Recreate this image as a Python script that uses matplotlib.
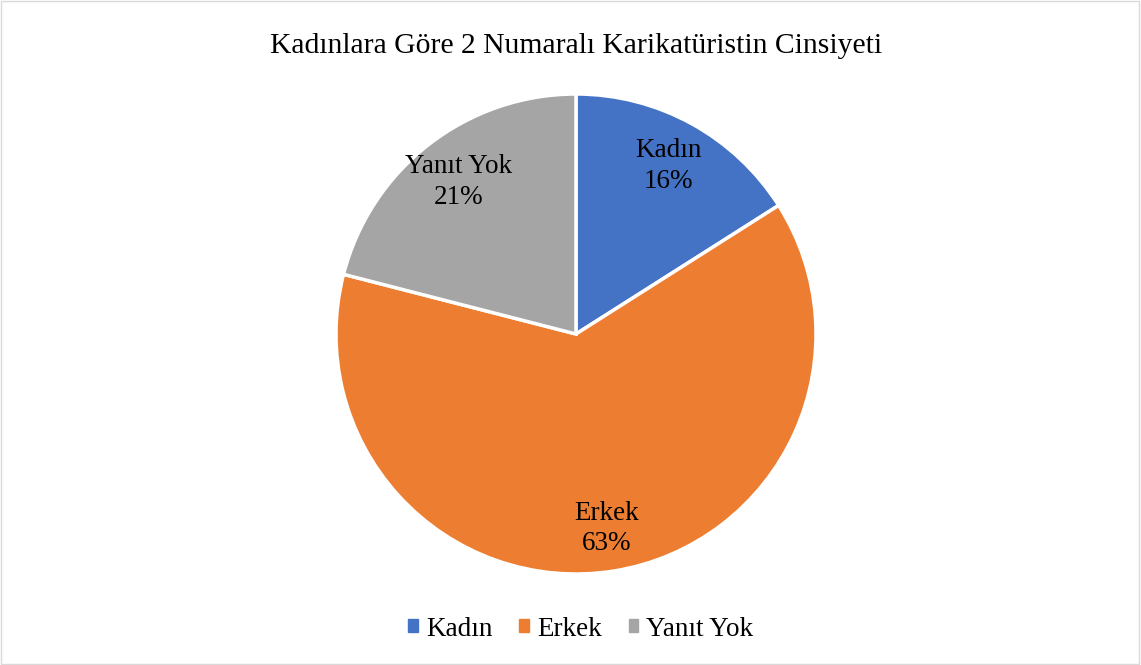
import matplotlib.pyplot as plt
from matplotlib.patches import Rectangle
import numpy as np

plt.rcParams['font.family'] = ['Liberation Serif', 'DejaVu Serif']

labels = ["Kadın", "Erkek", "Yanıt Yok"]
values = [16, 63, 21]
colors = ["#4472C4", "#ED7D31", "#A5A5A5"]

fig = plt.figure(figsize=(11.41, 6.65), dpi=100)
ax = fig.add_axes([0.0, 0.0, 1.0, 1.0])
ax.set_axis_off()

# pie centred at (576, 334) px, radius 240 px
ax_pie = fig.add_axes([(576 - 240) / 1141, (665 - 334 - 240) / 665, 480 / 1141, 480 / 665])

wedges, texts = ax_pie.pie(values, colors=colors, startangle=90, counterclock=False,
                           wedgeprops=dict(edgecolor="white", linewidth=2.5),
                           radius=1.0)
for w, lab, v in zip(wedges, labels, values):
    ang = np.deg2rad((w.theta1 + w.theta2) / 2)
    d = 0.82 if lab == "Erkek" else 0.80
    ax_pie.text(d * np.cos(ang), d * np.sin(ang), lab + "\n" + str(v) + "%",
                ha="center", va="center", fontsize=19.5, linespacing=1.3)
ax_pie.set_xlim(-1, 1)
ax_pie.set_ylim(-1, 1)
ax_pie.set_aspect("equal")

fig.text(576 / 1141, 1 - 46 / 665, "Kadınlara Göre 2 Numaralı Karikatüristin Cinsiyeti",
         ha="center", va="center", fontsize=21.3)

handles = [Rectangle((0, 0), 1, 1, color=c) for c in colors]
fig.legend(handles, labels, loc="center", bbox_to_anchor=(581 / 1141, 1 - 629 / 665),
           ncol=3, frameon=False, fontsize=19.5, handlelength=0.35, handleheight=0.35,
           handletextpad=0.3, columnspacing=1.0)

ax.add_patch(Rectangle((0.001, 0.002), 0.997, 0.996, transform=fig.transFigure,
                       fill=False, edgecolor="#D9D9D9", linewidth=1))

fig.savefig("out.png", dpi=100)
